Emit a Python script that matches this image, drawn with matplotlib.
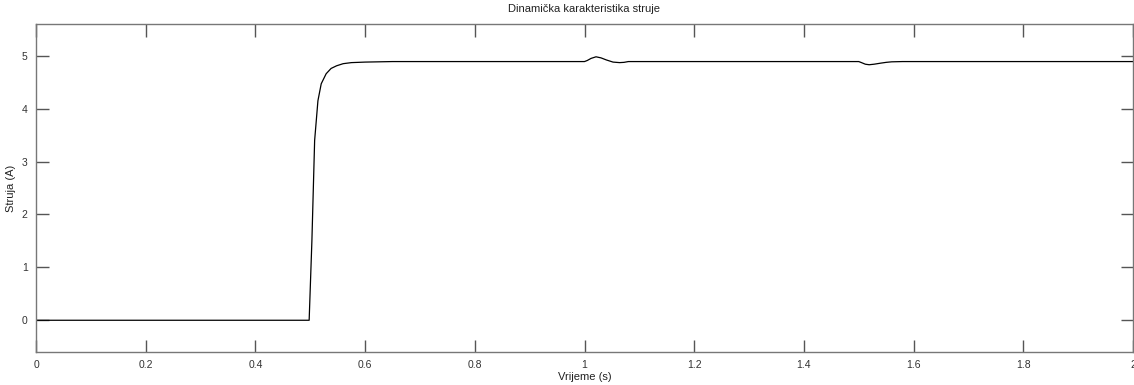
import matplotlib
matplotlib.use("Agg")
import matplotlib.pyplot as plt
from matplotlib.ticker import FuncFormatter

# Data (time in s, current in A)
t_vals = [0.0, 0.498, 0.499, 0.503, 0.508, 0.514, 0.520, 0.529, 0.538, 0.548, 0.560,
          0.575, 0.600, 0.650, 1.000, 1.005, 1.012, 1.021, 1.030, 1.040, 1.052,
          1.064, 1.072, 1.080, 1.100, 1.500, 1.505, 1.512, 1.519, 1.528, 1.540,
          1.550, 1.560, 1.580, 2.0]
i_vals = [0.0, 0.0, 0.3, 1.5, 3.4, 4.15, 4.47, 4.66, 4.76, 4.81, 4.85,
          4.87, 4.88, 4.89, 4.89, 4.91, 4.95, 4.98, 4.96, 4.92, 4.88,
          4.87, 4.875, 4.89, 4.89, 4.89, 4.87, 4.84, 4.83, 4.84, 4.86,
          4.875, 4.885, 4.89, 4.89]
x_ticks = [0, 0.2, 0.4, 0.6, 0.8, 1.0, 1.2, 1.4, 1.6, 1.8, 2.0]
y_ticks = [0, 1, 2, 3, 4, 5]

plt.rcParams['font.family'] = ['Liberation Sans', 'DejaVu Sans']

fig = plt.figure(figsize=(11.34, 3.85), dpi=100)
ax = fig.add_axes([36/1134, 33/385, 1097/1134, 328/385])
ax.plot(t_vals, i_vals, color='black', linewidth=0.9)
ax.set_xlim(0, 2)
ax.set_ylim(-0.6, 5.6)
ax.set_xticks(x_ticks)
ax.set_yticks(y_ticks)
ax.xaxis.set_major_formatter(FuncFormatter(lambda v, p: f"{v:g}"))
ax.tick_params(direction='in', length=9, width=1, colors='#555555',
               labelcolor='#333333', labelsize=7.5, top=True, right=True, pad=6)
for s in ax.spines.values():
    s.set_color('#777777')
    s.set_linewidth(1.0)
ax.set_title('Dinamička karakteristika struje', fontsize=8, color='#222222', pad=9)
ax.set_xlabel('Vrijeme (s)', fontsize=8, color='#222222', labelpad=1)
ax.set_ylabel('Struja (A)', fontsize=8, color='#222222', labelpad=4)
fig.savefig('out.png', dpi=100)
